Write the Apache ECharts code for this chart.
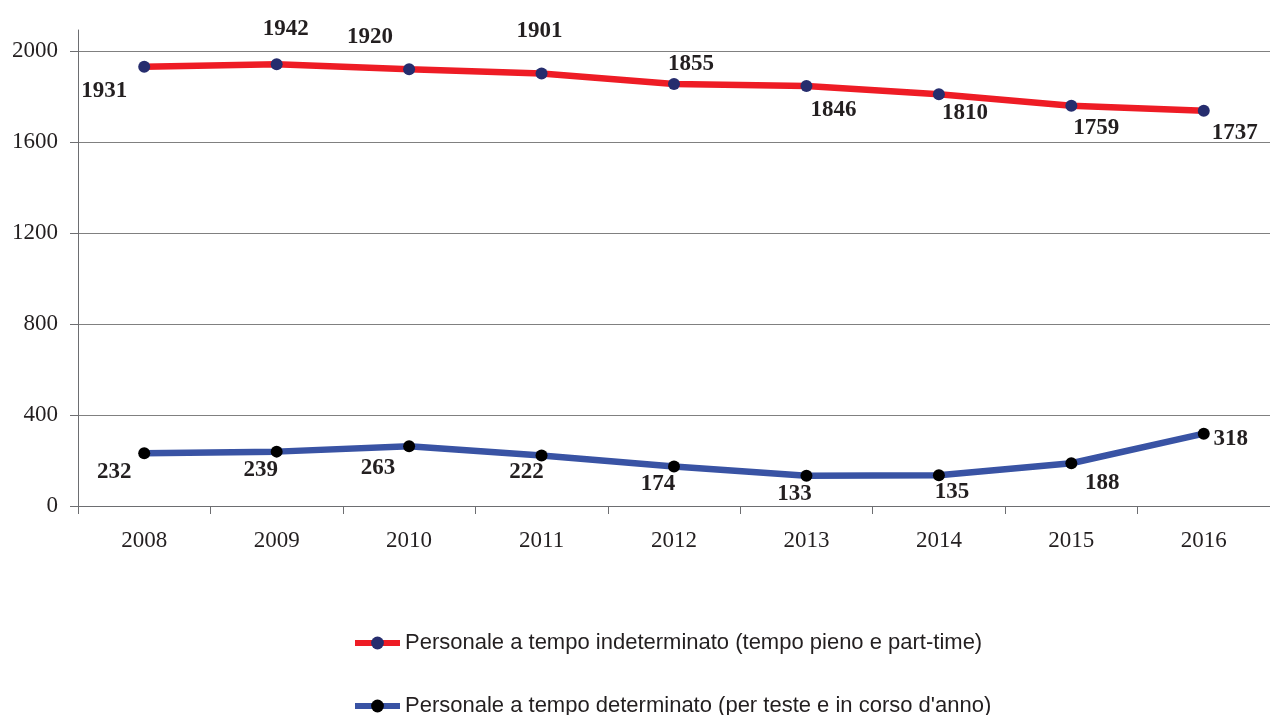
<!DOCTYPE html>
<html>
<head>
<meta charset="utf-8">
<script src="https://cdn.jsdelivr.net/npm/echarts@6/dist/echarts.min.js"></script>
<style>
  html, body { margin: 0; padding: 0; background: #fff; }
  #chart { width: 1270px; height: 715px; }
</style>
</head>
<body>
<div id="chart"></div>
<script>
const years = ['2008', '2009', '2010', '2011', '2012', '2013', '2014', '2015', '2016']
const indeterminato = [1931, 1942, 1920, 1901, 1855, 1846, 1810, 1759, 1737]
const determinato = [232, 239, 263, 222, 174, 133, 135, 188, 318]
const yTicks = [0, 400, 800, 1200, 1600, 2000]
const names = [
  'Personale a tempo indeterminato (tempo pieno e part-time)',
  "Personale a tempo determinato (per teste e in corso d'anno)",
]

// label offsets from the point centre, as in the original
const offsetsTop = [[-40, 24], [9, -35], [-39, -32], [-2, -42], [17, -20], [27, 24], [26, 19], [25, 22], [31, 22]]
const offsetsBottom = [[-30, 19], [-16, 18], [-31, 22], [-15, 17], [-16, 18], [-12, 18], [13, 17], [31, 20], [27, 5]]

const SERIF = '"Liberation Serif", "Times New Roman", serif'
const SANS = '"Liberation Sans", Arial, sans-serif'
const INK = '#231f20'
const AXIS = '#6d6e71'

function withLabels(values, offsets) {
  return values.map((v, i) => ({
    value: v,
    label: { offset: offsets[i] },
  }))
}

const labelStyle = {
  show: true,
  position: 'inside',
  align: 'center',
  verticalAlign: 'middle',
  fontFamily: SERIF,
  fontSize: 23,
  fontWeight: 'bold',
  color: INK,
}

function legendRow(name, top) {
  return {
    left: 347,
    top: top,
    itemWidth: 45,
    itemHeight: 16,
    itemGap: 4,
    lineStyle: { width: 6 },
    textStyle: { fontFamily: SANS, fontSize: 22, color: INK },
    data: [name],
  }
}

const chart = echarts.init(document.getElementById('chart'))
chart.setOption({
  animation: false,
  backgroundColor: '#fff',
  grid: [
    { left: 78, right: -10, top: 51, bottom: 209 },
    // only used to draw the stub of the y axis above 2000
    { left: 78, right: -10, top: 30, bottom: 209 },
  ],
  legend: [legendRow(names[0], 627), legendRow(names[1], 690)],
  xAxis: [
    {
      type: 'category',
      gridIndex: 0,
      data: years,
      boundaryGap: true,
      axisLine: { lineStyle: { color: AXIS, width: 1 } },
      axisTick: { show: true, length: 8, lineStyle: { color: AXIS } },
      axisLabel: { fontFamily: SERIF, fontSize: 23, color: INK, margin: 23 },
      splitLine: { show: false },
    },
    { type: 'category', gridIndex: 1, data: years, show: false },
  ],
  yAxis: [
    {
      type: 'value',
      gridIndex: 0,
      min: yTicks[0],
      max: yTicks[yTicks.length - 1],
      interval: 400,
      axisLine: { show: true, lineStyle: { color: AXIS, width: 1 } },
      axisTick: { show: true, length: 8, lineStyle: { color: AXIS } },
      axisLabel: { fontFamily: SERIF, fontSize: 23, color: INK, margin: 20, formatter: v => String(v) },
      splitLine: { show: true, lineStyle: { color: '#808080', width: 1 } },
    },
    {
      type: 'value',
      gridIndex: 1,
      min: 0,
      max: 2000,
      axisLine: { show: true, lineStyle: { color: AXIS, width: 1 } },
      axisTick: { show: false },
      axisLabel: { show: false },
      splitLine: { show: false },
    },
  ],
  series: [
    {
      name: names[0],
      type: 'line',
      xAxisIndex: 0,
      yAxisIndex: 0,
      data: withLabels(indeterminato, offsetsTop),
      symbol: 'circle',
      symbolSize: 12,
      lineStyle: { color: '#ee1c25', width: 6.5 },
      itemStyle: { color: '#262d6e' },
      label: labelStyle,
      z: 3,
    },
    {
      name: names[1],
      type: 'line',
      xAxisIndex: 0,
      yAxisIndex: 0,
      data: withLabels(determinato, offsetsBottom),
      symbol: 'circle',
      symbolSize: 12,
      lineStyle: { color: '#3953a4', width: 6.5 },
      itemStyle: { color: '#000' },
      label: labelStyle,
      z: 3,
    },
  ],
})
</script>
</body>
</html>
